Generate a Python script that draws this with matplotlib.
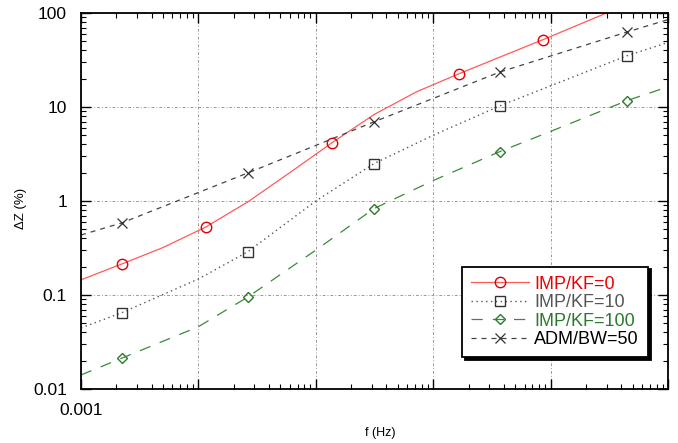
import matplotlib
matplotlib.use("Agg")
import matplotlib.pyplot as plt
import numpy as np

plt.rcParams['font.family'] = ['Liberation Sans', 'DejaVu Sans']

# IMP/KF=0 : smooth curve + marker points
kf0_f = [0.001, 0.00223, 0.005, 0.0116, 0.0264, 0.06, 0.137, 0.313, 0.72, 1.66, 3.71, 8.6, 30, 100]
kf0_z = [0.145, 0.214, 0.32, 0.53, 0.98, 2.0, 4.16, 8.3, 14.5, 22.6, 34.0, 52.0, 100.0, 185.0]
kf0_mark = [1, 3, 6, 9, 11]

# IMP/KF=10
kf10_f = [0.001, 0.00223, 0.01, 0.0264, 0.1, 0.313, 1.0, 3.71, 10, 44.8, 100]
kf10_z = [0.0446, 0.0649, 0.148, 0.289, 1.0, 2.5, 5.0, 10.3, 16.8, 35.1, 48.6]

# IMP/KF=100
kf100_f = [0.001, 0.00223, 0.01, 0.0264, 0.1, 0.313, 1.0, 3.71, 10, 44.8, 100]
kf100_z = [0.0141, 0.0213, 0.046, 0.0953, 0.30, 0.83, 1.65, 3.36, 5.5, 11.7, 16.4]

# ADM/BW=50
adm_f = [0.001, 0.00223, 0.0264, 0.313, 3.71, 44.8, 100]
adm_z = [0.435, 0.585, 1.99, 6.95, 23.6, 62.8, 85.0]

marks = [1, 3, 5, 7, 9]
adm_marks = [1, 2, 3, 4, 5]

fig = plt.figure(figsize=(6.78, 4.43), dpi=100)
ax = fig.add_axes([81 / 678, 1 - 389 / 443, 587 / 678, 376 / 443])

ax.set_xscale('log')
ax.set_yscale('log')
ax.set_xlim(0.001, 100)
ax.set_ylim(0.01, 100)

ax.grid(True, which='major', color='#9a9a9a', linestyle=(0, (3, 2, 1, 2)), linewidth=0.7)
ax.set_axisbelow(True)

ax.plot(kf0_f, kf0_z, color='#ff5a5a', lw=0.9, marker='o', markevery=kf0_mark,
        ms=7.5, mfc='none', mec='#e00000', mew=1.0, label='IMP/KF=0')
ax.plot(kf10_f, kf10_z, color='#555555', lw=1.0, linestyle=(0, (1, 2.5)), marker='s',
        markevery=marks, ms=7, mfc='none', mec='#333333', mew=1.0, label='IMP/KF=10')
ax.plot(kf100_f, kf100_z, color='#3a8a3a', lw=0.9, linestyle=(0, (9, 8)), marker='D',
        markevery=marks, ms=5.5, mfc='none', mec='#2a7a2a', mew=1.0, label='IMP/KF=100')
ax.plot(adm_f, adm_z, color='#444444', lw=0.9, linestyle=(0, (4, 4)), marker='x',
        markevery=adm_marks, ms=7.5, mec='#333333', mew=0.9, label='ADM/BW=50')

ax.tick_params(which='both', direction='in', top=True, right=True, labelsize=12.5)
ax.tick_params(which='major', length=7, width=1.0)
ax.tick_params(which='minor', length=3.5, width=0.8)
ax.tick_params(axis='y', pad=10)
ax.tick_params(axis='x', pad=10)

ax.set_yticks([0.01, 0.1, 1, 10, 100])
ax.set_yticklabels(['0.01', '0.1', '1', '10', '100'])
ax.set_xticks([0.001, 0.01, 0.1, 1, 10, 100])
ax.set_xticklabels(['0.001', '', '', '', '', ''])
for s in ax.spines.values():
    s.set_linewidth(1.3)

ax.set_xlabel('f (Hz)', fontsize=9)
ax.set_ylabel('ΔZ (%)', fontsize=9.5)
ax.xaxis.set_label_coords(0.509, -0.1)
ax.yaxis.set_label_coords(-0.092, 0.479)

leg = ax.legend(loc='lower right', bbox_to_anchor=(0.966, 0.085), borderaxespad=0,
                fontsize=13, handlelength=3.2, fancybox=False, edgecolor='black',
                framealpha=1, borderpad=0.5, labelspacing=0.08, handletextpad=0.3,
                shadow={'color': 'black', 'alpha': 1})
leg.get_frame().set_linewidth(1.3)
for t, c in zip(leg.get_texts(), ['#ee0000', '#555555', '#2a7a2a', '#000000']):
    t.set_color(c)

fig.savefig('out.png', dpi=100)
